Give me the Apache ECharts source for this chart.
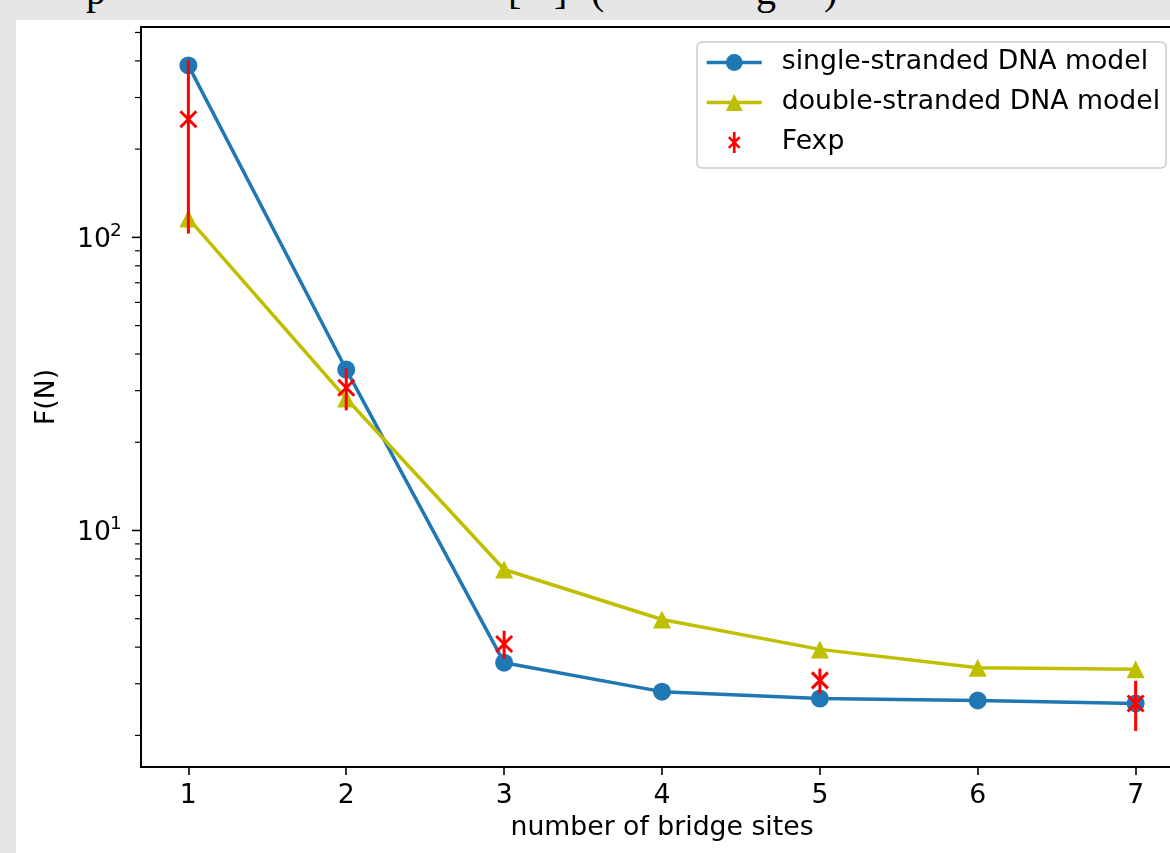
<!DOCTYPE html>
<html>
<head>
<meta charset="utf-8">
<script src="https://cdn.jsdelivr.net/npm/echarts@6/dist/echarts.min.js"></script>
<style>
html,body{margin:0;padding:0;width:1170px;height:853px;overflow:hidden;background:#e6e6e6;}
#topband{position:absolute;left:0;top:0;width:1170px;height:20px;overflow:hidden;font-family:'Liberation Serif','DejaVu Serif',serif;font-size:40px;color:#000;}
#topband span{position:absolute;top:-29px;line-height:40px;}
#chart{position:absolute;left:16px;top:20px;width:1167px;height:833px;background:#fff;}
</style>
</head>
<body>
<div id="topband"><span style="left:86px">p</span><span style="left:508px">[</span><span style="left:554px">]</span><span style="left:591px">(</span><span style="left:756px">g</span><span style="left:824px">)</span></div>
<div id="chart"></div>
<script>
// ---- data ----
const xCats = [1, 2, 3, 4, 5, 6, 7];
const singleModel = [386, 35.4, 3.54, 2.82, 2.67, 2.63, 2.57];
const doubleModel = [116, 28.2, 7.36, 4.97, 3.93, 3.40, 3.36];
const fexpX = [1, 2, 3, 5, 7];
const fexpVal = [253, 30.7, 4.1, 3.08, 2.57];
const fexpErr = [150, 5, 0.45, 0.3, 0.5];
const xTickValues = [1, 2, 3, 4, 5, 6, 7];
const yMajorTicks = [10, 100];
const yMajorExponents = ['1', '2'];
const yMinorTicks = [2, 3, 4, 5, 6, 7, 8, 9, 20, 30, 40, 50, 60, 70, 80, 90, 200, 300, 400, 500];
const seriesNames = ['single-stranded DNA model', 'double-stranded DNA model', 'Fexp'];

const X_MIN = 0.7, X_MAX = 7.3, Y_MIN = 1.56, Y_MAX = 522;
const FONT = "'DejaVu Sans', sans-serif";
const FS = 26.7;
const BLUE = '#1f77b4', OLIVE = '#bfbf00', RED = '#ff0000';

const chart = echarts.init(document.getElementById('chart'), null, {renderer: 'canvas'});

const tickData = [];
yMajorTicks.forEach((v, i) => tickData.push([X_MIN, v, 1, i]));
yMinorTicks.forEach(v => tickData.push([X_MIN, v, 0, -1]));

const asteriskIcon = 'path://M0,5.7L1.7,4L12,14.3L10.3,16Z M10.3,4L12,5.7L1.7,16L0,14.3Z M4.7,0L7.3,0L7.3,20L4.7,20Z';

const option = {
  animation: false,
  backgroundColor: '#ffffff',
  grid: {left: 125, top: 7, right: 0, bottom: 86, show: true, borderColor: '#000', borderWidth: 1.8, backgroundColor: 'transparent', containLabel: false},
  legend: {
    orient: 'vertical', left: 681, top: 22,
    itemWidth: 55, itemHeight: 21, itemGap: 13,
    padding: [7, 6, 12, 8],
    backgroundColor: '#ffffff', borderColor: '#cccccc', borderWidth: 1.5, borderRadius: 5,
    lineStyle: {width: 3.5},
    textStyle: {fontFamily: FONT, fontSize: FS, color: '#000', lineHeight: 27, padding: [0, 0, 0, 15]},
    data: [
      {name: seriesNames[0]},
      {name: seriesNames[1]},
      {name: seriesNames[2], icon: asteriskIcon}
    ],
    selectedMode: false
  },
  xAxis: {
    type: 'value', min: X_MIN, max: X_MAX,
    splitLine: {show: false},
    axisLine: {show: true, onZero: false, lineStyle: {color: '#000', width: 1.8}},
    axisTick: {show: true, customValues: xTickValues, length: 8, lineStyle: {color: '#000', width: 1.6}},
    axisLabel: {customValues: xTickValues, fontSize: FS, fontFamily: FONT, color: '#000', margin: 16},
    name: 'number of bridge sites', nameLocation: 'middle', nameGap: 48,
    nameTextStyle: {fontSize: FS, fontFamily: FONT, color: '#000'}
  },
  yAxis: {
    type: 'log', logBase: 10, min: Y_MIN, max: Y_MAX,
    splitLine: {show: false},
    axisLine: {show: true, lineStyle: {color: '#000', width: 1.8}},
    axisTick: {show: false},
    axisLabel: {show: false},
    minorTick: {show: false},
    name: 'F(N)', nameLocation: 'middle', nameGap: 80, nameRotate: 90,
    nameTextStyle: {fontSize: FS, fontFamily: FONT, color: '#000'}
  },
  series: [
    {
      name: seriesNames[0], type: 'line',
      data: xCats.map((x, i) => [x, singleModel[i]]),
      symbol: 'circle', symbolSize: 18,
      lineStyle: {color: BLUE, width: 3.5},
      itemStyle: {color: BLUE, borderWidth: 0},
      z: 2, silent: true
    },
    {
      name: seriesNames[1], type: 'line',
      data: xCats.map((x, i) => [x, doubleModel[i]]),
      symbol: 'triangle', symbolSize: 18,
      lineStyle: {color: OLIVE, width: 3.5},
      itemStyle: {color: OLIVE, borderWidth: 0},
      z: 3, silent: true
    },
    {
      name: seriesNames[2], type: 'custom',
      data: fexpX.map((x, i) => [x, fexpVal[i], fexpErr[i]]),
      itemStyle: {color: RED},
      encode: {x: 0, y: 1},
      z: 5, silent: true,
      renderItem: function (params, api) {
        const x = api.value(0), v = api.value(1), e = api.value(2);
        const top = api.coord([x, v + e]);
        const bot = api.coord([x, v - e]);
        const c = api.coord([x, v]);
        const s = 8;
        const st = {stroke: RED, lineWidth: 3};
        return {type: 'group', children: [
          {type: 'line', shape: {x1: top[0], y1: top[1], x2: bot[0], y2: bot[1]}, style: st},
          {type: 'line', shape: {x1: c[0] - s, y1: c[1] - s, x2: c[0] + s, y2: c[1] + s}, style: st},
          {type: 'line', shape: {x1: c[0] - s, y1: c[1] + s, x2: c[0] + s, y2: c[1] - s}, style: st}
        ]};
      }
    },
    {
      name: 'yTicks', type: 'custom',
      data: tickData, clip: false, silent: true, z: 10,
      encode: {x: 0, y: 1},
      renderItem: function (params, api) {
        const v = api.value(1), major = api.value(2) === 1, idx = api.value(3);
        const p = api.coord([X_MIN, v]);
        const len = major ? 9 : 6;
        const children = [
          {type: 'line', shape: {x1: p[0] - len, y1: p[1], x2: p[0], y2: p[1]}, style: {stroke: '#000', lineWidth: major ? 1.6 : 1.2}}
        ];
        if (major) {
          children.push({type: 'text', style: {text: '10', x: p[0] - 30, y: p[1] + 3, align: 'right', verticalAlign: 'middle', fontSize: FS, fontFamily: FONT, fill: '#000'}});
          children.push({type: 'text', style: {text: yMajorExponents[idx], x: p[0] - 31, y: p[1] - 6, align: 'left', verticalAlign: 'middle', fontSize: 18.5, fontFamily: FONT, fill: '#000'}});
        }
        return {type: 'group', children: children};
      }
    }
  ]
};
chart.setOption(option);
</script>
</body>
</html>
